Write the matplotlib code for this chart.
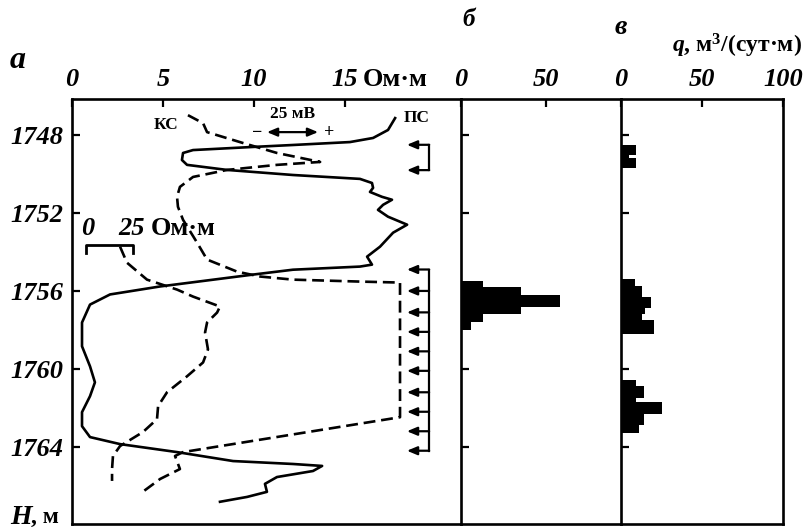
import numpy as np
import matplotlib.pyplot as plt

plt.rcParams['font.family'] = ['Liberation Serif', 'DejaVu Serif']
plt.rcParams['font.weight'] = 'bold'
plt.rcParams['mathtext.fontset'] = 'custom'
plt.rcParams['mathtext.rm'] = 'Liberation Serif:bold'
plt.rcParams['mathtext.it'] = 'Liberation Serif:italic:bold'

# ---- data ----
depth_ticks = [1748, 1752, 1756, 1760, 1764]
res_ticks = [0, 5, 10, 15]
b_ticks = [0, 50]
c_ticks = [0, 50, 100]

# SP curve (ПС), plotted in panel-a units
sp_depth = [1747.13, 1747.74, 1748.15, 1748.36, 1748.51, 1748.61, 1748.77, 1748.92, 1749.28,
            1749.53, 1749.79, 1750.05, 1750.25, 1750.46, 1750.71, 1750.92, 1751.17, 1751.32,
            1751.58, 1751.84, 1752.19, 1752.60, 1753.01, 1753.73, 1754.24, 1754.65, 1754.75,
            1754.91, 1755.16, 1755.77, 1756.18, 1756.70, 1757.62, 1758.84, 1759.87, 1760.69,
            1761.40, 1762.22, 1762.94, 1763.50, 1763.86, 1764.27, 1764.73, 1764.88, 1764.98,
            1765.24, 1765.55, 1765.90, 1766.31, 1766.57, 1766.82]
sp_val = [17.75, 17.36, 16.54, 15.27, 12.14, 9.95, 6.65, 6.10, 6.04,
          6.32, 8.52, 12.14, 15.82, 16.48, 16.54, 16.37, 17.03, 17.58,
          17.09, 16.81, 17.36, 18.41, 17.64, 16.92, 16.21, 16.48, 15.82,
          12.14, 9.95, 4.84, 2.09, 0.99, 0.55, 0.55, 0.99, 1.26,
          0.99, 0.55, 0.55, 0.99, 2.64, 5.77, 8.85, 12.14, 13.74,
          13.24, 11.26, 10.60, 10.71, 9.62, 8.13]

# apparent resistivity (КС), 0-20 Ом·м scale
ks_depth = [1746.98, 1747.39, 1747.85, 1748.41, 1748.92, 1749.38, 1749.53, 1749.79, 1750.15,
            1750.66, 1751.17, 1751.68, 1752.35, 1753.52, 1754.39, 1755.01, 1755.26, 1755.42,
            1755.52, 1755.57, 1762.48, 1764.27, 1764.47, 1765.14, 1765.65, 1766.41]
ks_val = [6.37, 7.20, 7.42, 9.40, 11.26, 13.63, 11.26, 8.52, 6.65,
          5.93, 5.77, 5.82, 6.10, 6.87, 7.42, 9.07, 10.33, 12.14,
          15.82, 18.02, 18.02, 6.10, 5.66, 5.93, 4.84, 3.74]

# second resistivity curve (0-25 Ом·м scale), in panel-a units
ks2_depth = [1753.73, 1754.55, 1755.42, 1755.93, 1756.29, 1756.80, 1757.11, 1757.62, 1758.13,
             1759.00, 1759.67, 1760.38, 1761.20, 1761.91, 1762.58, 1763.24, 1763.96, 1764.47,
             1765.14, 1765.75]
ks2_val = [2.64, 3.02, 4.12, 5.77, 6.65, 8.13, 7.97, 7.42, 7.31,
           7.47, 7.20, 6.32, 5.22, 4.73, 4.67, 3.90, 2.64, 2.25,
           2.20, 2.20]

# perforation intervals
perf_top = [1748.5, 1749.8]
perf_main = [1754.9, 1756.0, 1757.1, 1758.1, 1759.1, 1760.1, 1761.2, 1762.2, 1763.2, 1764.2]

# panel б histogram
b_edges = [1755.5, 1755.8, 1756.2, 1756.8, 1757.2, 1757.6, 1758.0]
b_vals = [13, 35, 58, 35, 13, 6]

# panel в histogram (three groups)
c1_edges = [1748.5, 1749.0, 1749.2, 1749.7]
c1_vals = [9, 5, 9]
c2_edges = [1755.4, 1755.75, 1756.3, 1756.85, 1757.2, 1757.5, 1758.2]
c2_vals = [8.5, 13, 18.5, 15, 12.8, 20.5]
c3_edges = [1760.55, 1760.9, 1761.5, 1761.7, 1762.3, 1762.9, 1763.3]
c3_vals = [9.5, 14, 9.5, 25, 14, 11]

W, H = 807, 529
fig = plt.figure(figsize=(W / 100, H / 100), dpi=100)

bot = 1 - 524 / H
hgt = (524 - 99) / H
ax_a = fig.add_axes([72 / W, bot, (461 - 72) / W, hgt])
ax_b = fig.add_axes([461 / W, bot, (621 - 461) / W, hgt])
ax_c = fig.add_axes([621 / W, bot, (783 - 621) / W, hgt])

ylim = (1767.96, 1746.15)
lab_font = dict(fontsize=19, fontstyle='italic', fontweight='bold')

for ax in (ax_a, ax_b, ax_c):
    ax.set_ylim(*ylim)
    ax.set_yticks(depth_ticks)
    for s in ax.spines.values():
        s.set_linewidth(1.9)
    ax.xaxis.tick_top()
    ax.tick_params(direction='in', length=6, width=1.6, pad=6)
    ax.tick_params(axis='x', which='both', bottom=False)

ax_a.spines['right'].set_visible(False)
ax_b.spines['right'].set_visible(False)

ax_a.set_xlim(0, 21.37)
ax_a.set_xticks(res_ticks)
ax_a.set_xticklabels([str(t) for t in res_ticks], **lab_font)
ax_a.set_yticklabels([str(t) for t in depth_ticks], **lab_font)

ax_b.set_xlim(0, 94.1)
ax_b.set_xticks(b_ticks)
ax_b.set_xticklabels([str(t) for t in b_ticks], **lab_font)
ax_b.set_yticklabels([])

ax_c.set_xlim(0, 100)
ax_c.set_xticks(c_ticks)
ax_c.set_xticklabels([str(t) for t in c_ticks], **lab_font)
ax_c.set_yticklabels([])

# curves
dash = (0, (4.5, 2.2))
ax_a.plot(sp_val, sp_depth, color='k', lw=1.9, solid_joinstyle='round')
ax_a.plot(ks_val, ks_depth, color='k', lw=1.9, linestyle=dash)
ax_a.plot(ks2_val, ks2_depth, color='k', lw=1.9, linestyle=dash)

# perforation arrows
arrow_kw = dict(color='k', lw=1.6, mutation_scale=10, shrinkA=0, shrinkB=0)
x_stem, x_tip = 19.62, 18.40
for grp in (perf_top, perf_main):
    ax_a.plot([x_stem, x_stem], [grp[0], grp[-1]], color='k', lw=1.6)
    for d in grp:
        ax_a.annotate('', xy=(x_tip, d), xytext=(x_stem, d),
                      arrowprops=dict(arrowstyle='-|>,head_length=0.6,head_width=0.25', **arrow_kw))

# labels inside panel a
ax_a.text(5.16, 1747.49, 'КС', ha='center', va='center', fontsize=12.5)
ax_a.text(18.96, 1747.13, 'ПС', ha='center', va='center', fontsize=12.5)
ax_a.text(12.14, 1746.92, '25 мВ', ha='center', va='center', fontsize=12.5)
ax_a.annotate('', xy=(10.71, 1747.85), xytext=(13.52, 1747.85),
              arrowprops=dict(arrowstyle='<|-|>,head_length=0.6,head_width=0.25', **arrow_kw))
ax_a.text(10.15, 1747.85, '−', ha='center', va='center', fontsize=13)
ax_a.text(14.15, 1747.85, '+', ha='center', va='center', fontsize=13)

# scale bracket for second curve
ax_a.plot([0.77, 0.77, 3.35, 3.35], [1754.05, 1753.64, 1753.64, 1754.05], color='k', lw=2)
ax_a.text(0.88, 1752.77, '0', ha='center', va='center', **lab_font)
ax_a.text(3.30, 1752.77, '25', ha='center', va='center', **lab_font)
ax_a.text(4.3, 1752.77, 'Ом·м', ha='left', va='center', fontsize=19)

# histograms
ax_b.barh(b_edges[:-1], b_vals, height=np.diff(b_edges), align='edge', color='k', lw=0)
for e, v in ((c1_edges, c1_vals), (c2_edges, c2_vals), (c3_edges, c3_vals)):
    ax_c.barh(e[:-1], v, height=np.diff(e), align='edge', color='k', lw=0)

# figure-level labels
fig.text(363 / W, 1 - 80 / H, 'Ом·м', ha='left', va='center', fontsize=19)
fig.text(10 / W, 1 - 61 / H, 'а', ha='left', va='center', fontsize=23, fontstyle='italic')
fig.text(462 / W, 1 - 20 / H, 'б', ha='left', va='center', fontsize=18, fontstyle='italic')
fig.text(615 / W, 1 - 28 / H, 'в', ha='left', va='center', fontsize=20, fontstyle='italic')
fig.text(802 / W, 1 - 46 / H, r'$q$, м$^3$/(сут·м)', ha='right', va='center', fontsize=17)
fig.text(10 / W, 1 - 517 / H, 'H', ha='left', va='center', fontsize=20, fontstyle='italic')
fig.text(31 / W, 1 - 517 / H, ', м', ha='left', va='center', fontsize=17)

fig.savefig('out.png', dpi=100)
